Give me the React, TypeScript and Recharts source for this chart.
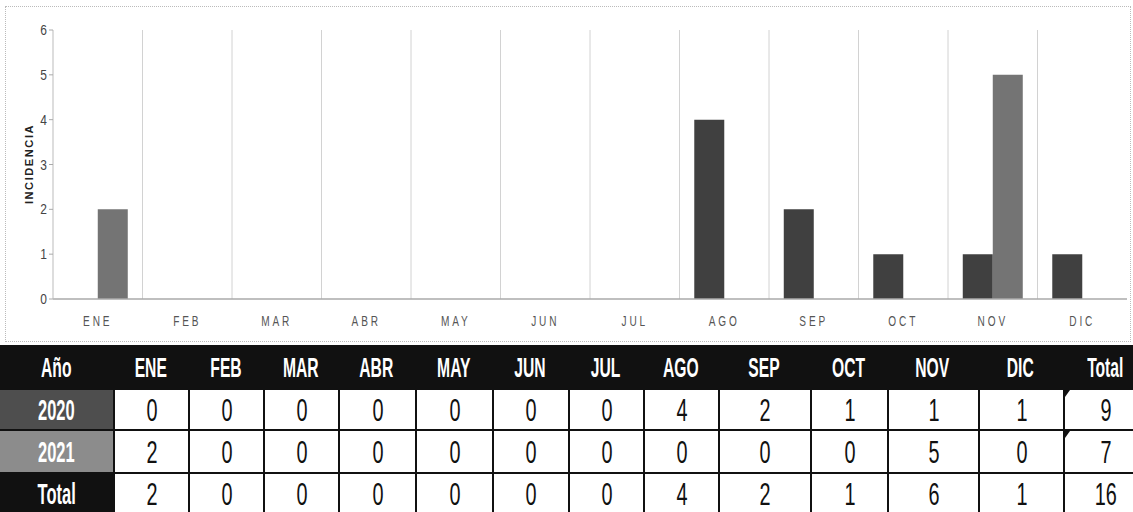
import { BarChart, Bar, XAxis, YAxis, CartesianGrid, Label } from 'recharts';

const months = ['ENE', 'FEB', 'MAR', 'ABR', 'MAY', 'JUN', 'JUL', 'AGO', 'SEP', 'OCT', 'NOV', 'DIC'];
const values2020 = [0, 0, 0, 0, 0, 0, 0, 4, 2, 1, 1, 1];
const values2021 = [2, 0, 0, 0, 0, 0, 0, 0, 0, 0, 5, 0];
const yTicks = [0, 1, 2, 3, 4, 5, 6];

const chartData = months.map((m, i) => ({ month: m, y2020: values2020[i], y2021: values2021[i] }));

// table layout (px)
const colWidths = [113, 75, 75, 75, 77, 77, 76, 75, 75, 92, 77, 91, 85, 84];
const rowHeights = [43, 41, 43, 42];

const sum = (a: number[]) => a.reduce((s, v) => s + v, 0);
const totals = months.map((_, i) => values2020[i] + values2021[i]);

const tableRows = [
  { label: '2020', bg: '#4e4e4e', values: [...values2020, sum(values2020)] },
  { label: '2021', bg: '#8c8c8c', values: [...values2021, sum(values2021)] },
  { label: 'Total', bg: '#111', values: [...totals, sum(totals)] },
];

const FONT = '"Liberation Sans", Arial, sans-serif';

function Squeeze({ children, scale, style }: { children: any; scale: number; style?: any }) {
  return (
    <span style={{ display: 'inline-block', transform: `scaleX(${scale})`, transformOrigin: 'center', whiteSpace: 'nowrap', ...style }}>
      {children}
    </span>
  );
}

const XTick = ({ x, y, payload }: any) => (
  <g transform={`translate(${x},${y + 19}) scale(0.72,1)`}>
    <text x={0} y={0} textAnchor="middle" fontSize={14} letterSpacing={4} fill="#555" fontFamily={FONT}>
      {payload.value}
    </text>
  </g>
);

const YTick = ({ x, y, payload }: any) => (
  <g transform={`translate(${x},${y + 5}) scale(0.8,1)`}>
    <text x={0} y={0} textAnchor="end" fontSize={15} fill="#444" fontFamily={FONT}>
      {payload.value}
    </text>
  </g>
);

const YLabel = () => (
  <text
    x={33}
    y={164}
    transform="rotate(-90 33 164)"
    textAnchor="middle"
    fontSize={11}
    fontWeight="bold"
    letterSpacing={1.6}
    fill="#222"
    fontFamily={FONT}
  >
    INCIDENCIA
  </text>
);

export default function App() {
  return (
    <div style={{ position: 'absolute', left: 0, top: 0, width: 1133, height: 512, background: '#fff', overflow: 'hidden' }}>
      <div style={{ position: 'absolute', left: 5, top: 6, width: 1124, height: 334, border: '1px dotted #bbb' }} />
      <div style={{ position: 'absolute', left: 0, top: 0 }}>
        <BarChart
          width={1133}
          height={340}
          data={chartData}
          margin={{ top: 30, right: 6, left: 0, bottom: 0 }}
          barCategoryGap="16.5%"
          barGap={0}
        >
          <CartesianGrid
            horizontal={false}
            stroke="#d2d2d2"
            verticalCoordinatesGenerator={({ offset }: any) =>
              months.slice(1).map((_, i) => offset.left + ((i + 1) * offset.width) / months.length)
            }
          />
          <XAxis dataKey="month" height={41} tickLine={false} axisLine={{ stroke: '#aaa', strokeWidth: 1.5 }} tick={<XTick />} interval={0} />
          <YAxis
            width={53}
            domain={[0, 6]}
            ticks={yTicks}
            tickSize={4}
            tickLine={{ stroke: '#aaa' }}
            axisLine={{ stroke: '#bbb' }}
            tick={<YTick />}
          >
            <Label content={<YLabel />} />
          </YAxis>
          <Bar dataKey="y2020" fill="#404040" isAnimationActive={false} />
          <Bar dataKey="y2021" fill="#747474" isAnimationActive={false} />
        </BarChart>
      </div>

      <div style={{ position: 'absolute', left: 0, top: 345, fontFamily: FONT }}>
        <div style={{ display: 'flex', height: rowHeights[0], background: '#111', color: '#fff', fontWeight: 'bold' }}>
          {['Año', ...months, 'Total'].map((h, i) => (
            <div key={h} style={{ width: colWidths[i], display: 'flex', alignItems: 'center', justifyContent: 'center', paddingTop: 4, boxSizing: 'border-box' }}>
              <Squeeze scale={0.58} style={{ fontSize: 27, lineHeight: 1 }}>{h}</Squeeze>
            </div>
          ))}
        </div>
        {tableRows.map((r, ri) => (
          <div key={r.label} style={{ display: 'flex', height: rowHeights[ri + 1], borderTop: '2px solid #111', boxSizing: 'border-box' }}>
            <div
              style={{
                width: colWidths[0],
                background: r.bg,
                color: '#fff',
                fontWeight: 'bold',
                display: 'flex',
                alignItems: 'center',
                justifyContent: 'center',
              }}
            >
              <Squeeze scale={0.55} style={{ fontSize: 30, lineHeight: 1 }}>{r.label}</Squeeze>
            </div>
            {r.values.map((v, ci) => (
              <div
                key={ci}
                style={{
                  width: colWidths[ci + 1],
                  borderLeft: '2px solid #111',
                  boxSizing: 'border-box',
                  display: 'flex',
                  alignItems: 'center',
                  justifyContent: 'center',
                  position: 'relative',
                  color: '#111',
                }}
              >
                {ci === months.length && ri < 2 && (
                  <div style={{ position: 'absolute', left: 0, top: 0, width: 0, height: 0, borderTop: '7px solid #111', borderRight: '5px solid transparent' }} />
                )}
                <Squeeze scale={0.62} style={{ fontSize: 32, lineHeight: 1 }}>{v}</Squeeze>
              </div>
            ))}
          </div>
        ))}
      </div>
    </div>
  );
}
